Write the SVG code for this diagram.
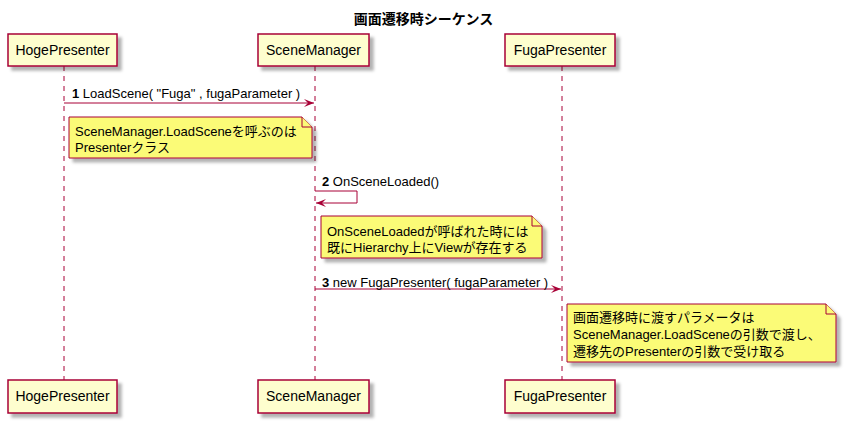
<svg xmlns="http://www.w3.org/2000/svg" width="846" height="422" viewBox="0 0 846 422">
<defs>
<filter id="sh" x="-10%" y="-10%" width="130%" height="140%">
<feGaussianBlur in="SourceAlpha" stdDeviation="1.7"/>
<feOffset dx="4" dy="4" result="b"/>
<feFlood flood-color="#000" flood-opacity="0.3"/>
<feComposite in2="b" operator="in"/>
<feMerge><feMergeNode/><feMergeNode in="SourceGraphic"/></feMerge>
</filter>
<marker id="ah" viewBox="0 0 10 8" refX="10" refY="4" markerWidth="10" markerHeight="8" markerUnits="userSpaceOnUse" orient="auto">
<polygon points="0,0 10,4 0,8 4,4" fill="#A80036"/>
</marker>
</defs>
<style>
text{font-family:"Liberation Sans","Noto Sans CJK JP",sans-serif;fill:#000}
.p rect{fill:#FEFECE;stroke:#A80036;stroke-width:1.5;filter:url(#sh)}
.p text{font-size:14px;text-anchor:middle}
.life{stroke:#A80036;stroke-width:1;stroke-dasharray:5,5}
.msg{stroke:#A80036;stroke-width:1;fill:none;marker-end:url(#ah)}
.m{font-size:13px}
.n path.b{fill:#FBFB77;stroke:#A80036;stroke-width:1;filter:url(#sh)}
.n path.f{fill:#FBFB77;stroke:#A80036;stroke-width:1}
.n text{font-size:13px}
</style>
<rect width="846" height="422" fill="#fff"/>
<text x="423.5" y="24" font-size="14" font-weight="bold" text-anchor="middle">画面遷移時シーケンス</text>
<g id="lifelines">
<line class="life" x1="64" y1="66" x2="64" y2="380"/>
<line class="life" x1="315" y1="66" x2="315" y2="380"/>
<line class="life" x1="562" y1="66" x2="562" y2="380"/>
</g>
<g id="HogePresenter" class="p">
<rect x="8" y="34" width="109" height="32"/>
<text x="62.5" y="55">HogePresenter</text>
<rect x="8" y="380" width="109" height="33"/>
<text x="62.5" y="401">HogePresenter</text>
</g>
<g id="SceneManager" class="p">
<rect x="258" y="34" width="111" height="32"/>
<text x="313.5" y="55">SceneManager</text>
<rect x="258" y="380" width="111" height="33"/>
<text x="313.5" y="401">SceneManager</text>
</g>
<g id="FugaPresenter" class="p">
<rect x="505" y="34" width="110" height="32"/>
<text x="560" y="55">FugaPresenter</text>
<rect x="505" y="380" width="110" height="33"/>
<text x="560" y="401">FugaPresenter</text>
</g>
<g id="connectors">
<line class="msg" x1="64" y1="103" x2="314" y2="103"/>
<text class="m" x="72" y="98"><tspan font-weight="bold">1</tspan> LoadScene( "Fuga" , fugaParameter )</text>
<polyline class="msg" points="315,191 357,191 357,203 316,203"/>
<text class="m" x="322" y="186"><tspan font-weight="bold">2</tspan> OnSceneLoaded()</text>
<line class="msg" x1="315" y1="289" x2="561" y2="289"/>
<text class="m" x="322" y="287"><tspan font-weight="bold">3</tspan> new FugaPresenter( fugaParameter )</text>
</g>
<g id="note1" class="n">
<path class="b" d="M69,117 L302,117 L312,127 L312,158 L69,158 Z"/>
<path class="f" d="M302,117 L302,127 L312,127"/>
<text x="75" y="136">SceneManager.LoadSceneを呼ぶのは</text>
<text x="75" y="152">Presenterクラス</text>
</g>
<g id="note2" class="n">
<path class="b" d="M321,216 L532,216 L542,226 L542,258 L321,258 Z"/>
<path class="f" d="M532,216 L532,226 L542,226"/>
<text x="327" y="236">OnSceneLoadedが呼ばれた時には</text>
<text x="327" y="252">既にHierarchy上にViewが存在する</text>
</g>
<g id="note3" class="n">
<path class="b" d="M567,304 L826,304 L836,314 L836,362 L567,362 Z"/>
<path class="f" d="M826,304 L826,314 L836,314"/>
<text x="573" y="322">画面遷移時に渡すパラメータは</text>
<text x="573" y="339">SceneManager.LoadSceneの引数で渡し、</text>
<text x="573" y="356">遷移先のPresenterの引数で受け取る</text>
</g>
</svg>
